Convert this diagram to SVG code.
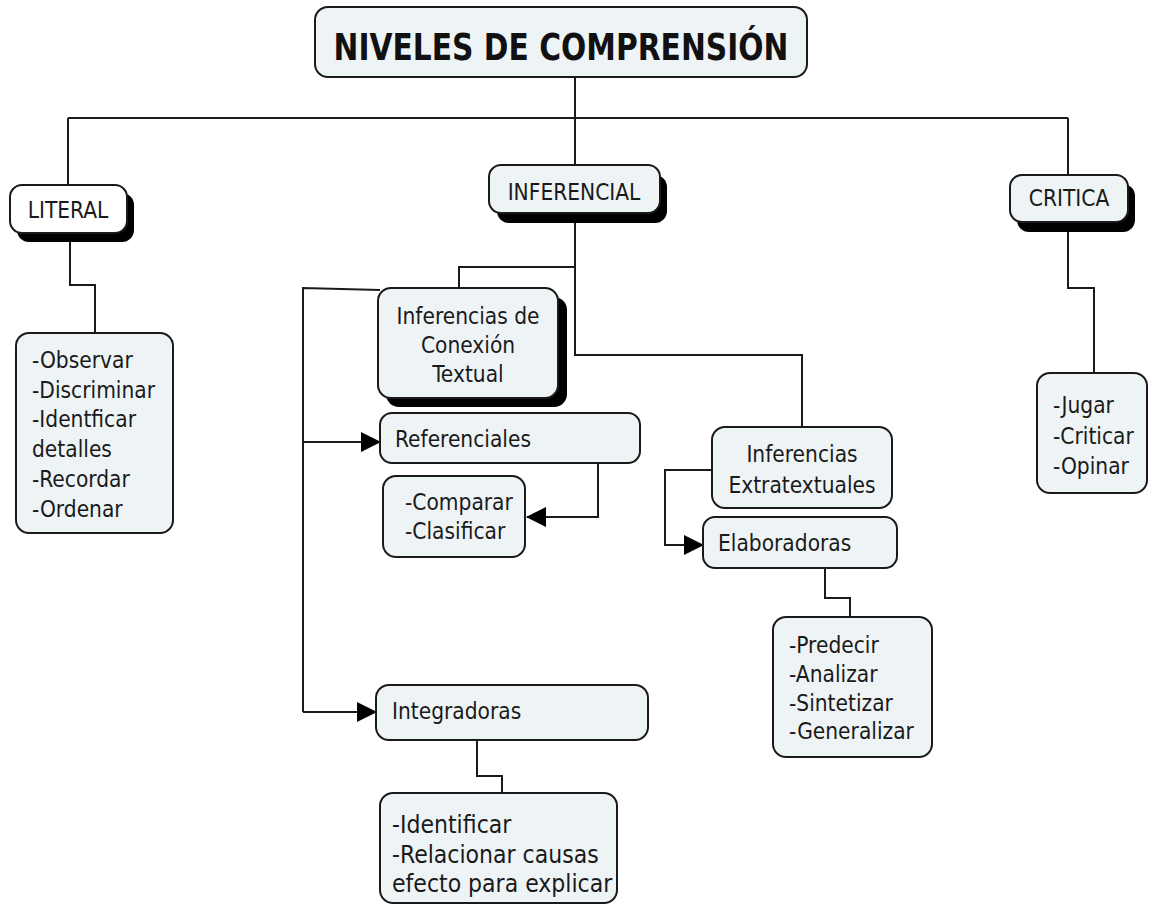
<svg xmlns="http://www.w3.org/2000/svg" width="1149" height="905" viewBox="0 0 1149 905">
<style>
.box{fill:#eef4f6;stroke:#1a1a1a;stroke-width:2}
.wbox{fill:#ffffff;stroke:#1a1a1a;stroke-width:2}
.sh{fill:#000}
.t{font-family:"DejaVu Sans Condensed","DejaVu Sans",sans-serif;font-stretch:condensed;font-size:22.5px;fill:#1a1a1a}
.big{font-size:24.5px}
.c{text-anchor:middle}
.title{font-family:"DejaVu Sans",sans-serif;font-weight:bold;font-size:38px;fill:#111;text-anchor:middle}
.ln{fill:none;stroke:#1a1a1a;stroke-width:2}
</style>
<defs>
<marker id="arr" markerUnits="userSpaceOnUse" markerWidth="20" markerHeight="20" refX="19" refY="10" orient="auto">
<path d="M0,0 L20,10 L0,20 z" fill="#000"/>
</marker>
</defs>
<rect width="1149" height="905" fill="#fff"/>
<g id="connectors">
<path class="ln" d="M575 77 V165"/>
<path class="ln" d="M68 118 H1068"/>
<path class="ln" d="M68 118 V185"/>
<path class="ln" d="M1068 118 V180"/>
<path class="ln" d="M70 240 V285 H95 V333"/>
<path class="ln" d="M1068 230 V288 H1094 V373"/>
<path class="ln" d="M575 220 V355 H802 V427"/>
<path class="ln" d="M575 267 H459 V288"/>
<path class="ln" d="M380 290 L303 288 V712"/>
<path class="ln" d="M303 442 H380" marker-end="url(#arr)"/>
<path class="ln" d="M303 712 H376" marker-end="url(#arr)"/>
<path class="ln" d="M598 463 V517 H527" marker-end="url(#arr)"/>
<path class="ln" d="M712 470 H665 V545 H703" marker-end="url(#arr)"/>
<path class="ln" d="M825 568 V598 H850 V617"/>
<path class="ln" d="M477 740 V776 H502 V793"/>
</g>
<g id="title">
<rect class="box" x="315" y="7" width="492" height="70" rx="13"/>
<text class="title" x="561" y="60" textLength="455" lengthAdjust="spacingAndGlyphs">NIVELES DE COMPRENSIÓN</text>
</g>
<g id="literal">
<rect class="sh" x="17" y="193" width="117" height="49" rx="12"/>
<rect class="wbox" x="10" y="185" width="117" height="48" rx="12"/>
<text class="t c" x="68" y="218">LITERAL</text>
</g>
<g id="literal-list">
<rect class="box" x="16" y="333" width="157" height="200" rx="13"/>
<text class="t" x="32" y="368">-Observar</text>
<text class="t" x="32" y="398">-Discriminar</text>
<text class="t" x="32" y="427">-Identficar</text>
<text class="t" x="32" y="457">detalles</text>
<text class="t" x="32" y="487">-Recordar</text>
<text class="t" x="32" y="517">-Ordenar</text>
</g>
<g id="inferencial">
<rect class="sh" x="497" y="175" width="170" height="48" rx="12"/>
<rect class="box" x="489" y="165" width="171" height="48" rx="12"/>
<text class="t c" x="574" y="200">INFERENCIAL</text>
</g>
<g id="critica">
<rect class="sh" x="1017" y="184" width="118" height="48" rx="12"/>
<rect class="box" x="1010" y="175" width="118" height="47" rx="12"/>
<text class="t c" x="1069" y="206">CRITICA</text>
</g>
<g id="critica-list">
<rect class="box" x="1037" y="373" width="110" height="120" rx="13"/>
<text class="t" x="1053" y="413">-Jugar</text>
<text class="t" x="1053" y="444">-Criticar</text>
<text class="t" x="1053" y="474">-Opinar</text>
</g>
<g id="conexion">
<rect class="sh" x="386" y="297" width="181" height="110" rx="13"/>
<rect class="box" x="378" y="288" width="180" height="110" rx="13"/>
<text class="t c" x="468" y="324">Inferencias de</text>
<text class="t c" x="468" y="353">Conexión</text>
<text class="t c" x="468" y="382">Textual</text>
</g>
<g id="referenciales">
<rect class="box" x="380" y="413" width="260" height="50" rx="12"/>
<text class="t" x="395" y="447">Referenciales</text>
</g>
<g id="comparar">
<rect class="box" x="383" y="476" width="142" height="81" rx="13"/>
<text class="t" x="405" y="510">-Comparar</text>
<text class="t" x="405" y="539">-Clasificar</text>
</g>
<g id="extratextuales">
<rect class="box" x="712" y="427" width="180" height="81" rx="13"/>
<text class="t c" x="802" y="462">Inferencias</text>
<text class="t c" x="802" y="493">Extratextuales</text>
</g>
<g id="elaboradoras">
<rect class="box" x="703" y="517" width="194" height="51" rx="12"/>
<text class="t" x="718" y="551">Elaboradoras</text>
</g>
<g id="elaboradoras-list">
<rect class="box" x="773" y="617" width="159" height="140" rx="13"/>
<text class="t" x="789" y="653">-Predecir</text>
<text class="t" x="789" y="682">-Analizar</text>
<text class="t" x="789" y="711">-Sintetizar</text>
<text class="t" x="789" y="739">-Generalizar</text>
</g>
<g id="integradoras">
<rect class="box" x="376" y="685" width="272" height="55" rx="13"/>
<text class="t" x="392" y="719">Integradoras</text>
</g>
<g id="integradoras-list">
<rect class="box" x="380" y="793" width="237" height="110" rx="13"/>
<text class="t big" x="392" y="833">-Identificar</text>
<text class="t big" x="392" y="863">-Relacionar causas</text>
<text class="t big" x="392" y="892">efecto para explicar</text>
</g>
</svg>
